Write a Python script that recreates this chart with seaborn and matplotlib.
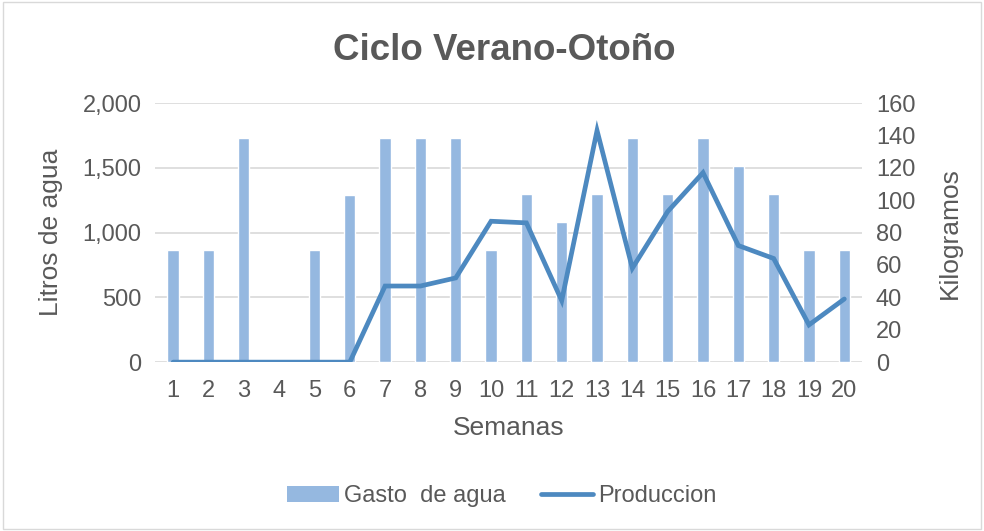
import pandas as pd
import numpy as np
import matplotlib.pyplot as plt
import seaborn as sns
from matplotlib.patches import Rectangle, Patch
from matplotlib.lines import Line2D
from matplotlib.ticker import FuncFormatter

# --- data ---
semanas = [str(i) for i in range(1, 21)]
gasto_agua = [864, 864, 1728, 0, 864, 1290, 1728, 1728, 1728, 864,
              1296, 1080, 1296, 1728, 1296, 1728, 1512, 1296, 864, 864]
produccion = [0, 0, 0, 0, 0, 0, 47, 47, 52, 87,
              86, 38, 143, 58, 93, 117, 72, 64, 23, 39]

df = pd.DataFrame({'Semana': semanas, 'Gasto': gasto_agua, 'Produccion': produccion})
df['pos'] = np.arange(len(df))

sns.set_theme(style='white')
plt.rcParams['font.family'] = ['Liberation Sans', 'DejaVu Sans']

bar_color = '#95B8E0'
line_color = '#4D89C0'
text_color = '#595959'
grid_color = '#D9D9D9'

fig = plt.figure(figsize=(9.84, 5.31), dpi=100)
ax = fig.add_axes([0.158, 0.318, 0.718, 0.488])

sns.barplot(data=df, x='Semana', y='Gasto', color=bar_color, width=0.32,
            saturation=1, ax=ax, zorder=2)
ax.set_ylim(0, 2000)
ax.set_yticks([0, 500, 1000, 1500, 2000])
ax.yaxis.set_major_formatter(FuncFormatter(lambda v, p: f'{int(v):,}'))
ax.set_xlim(-0.5, 19.5)
ax.grid(axis='y', color=grid_color, linewidth=1.2, zorder=0)
ax.set_axisbelow(True)
for s in ax.spines.values():
    s.set_visible(False)
ax.tick_params(axis='both', length=0, labelsize=17, labelcolor=text_color, pad=10)
ax.tick_params(axis='x', pad=13)
ax.set_xlabel('Semanas', fontsize=19, color=text_color, labelpad=10)
ax.set_ylabel('Litros de agua', fontsize=19, color=text_color, labelpad=14)

ax2 = ax.twinx()
sns.lineplot(data=df, x='pos', y='Produccion', color=line_color, linewidth=3.4,
             ax=ax2, solid_capstyle='round', solid_joinstyle='miter', zorder=3)
ax2.set_ylim(0, 160)
ax2.set_yticks(range(0, 161, 20))
ax2.set_xlim(-0.5, 19.5)
for s in ax2.spines.values():
    s.set_visible(False)
ax2.tick_params(axis='y', length=0, labelsize=17, labelcolor=text_color, pad=10)
ax2.set_ylabel('Kilogramos', fontsize=19, color=text_color, labelpad=16)
ax2.grid(False)

fig.text(0.512, 0.905, 'Ciclo Verano-Otoño', ha='center', va='center',
         fontsize=26.5, fontweight='bold', color=text_color)

handles = [Patch(facecolor=bar_color, edgecolor='none'),
           Line2D([0], [0], color=line_color, linewidth=3.4, solid_capstyle='round')]
fig.legend(handles, ['Gasto  de agua', 'Produccion'], loc='center',
           bbox_to_anchor=(0.51, 0.065), ncol=2, frameon=False, fontsize=17,
           labelcolor=text_color, handlelength=2.2, handletextpad=0.2,
           columnspacing=1.5)

fig.patches.append(Rectangle((0.003, 0.004), 0.994, 0.992, transform=fig.transFigure,
                             fill=False, edgecolor='#D9D9D9', linewidth=1))

fig.savefig('out.png', dpi=100)
